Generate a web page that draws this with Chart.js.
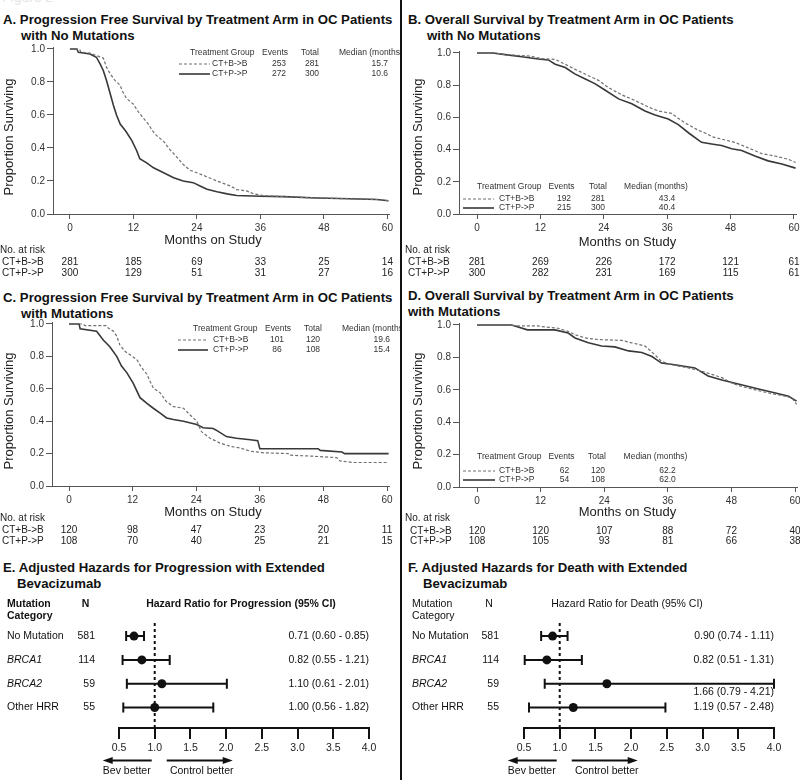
<!DOCTYPE html>
<html>
<head>
<meta charset="utf-8">
<script src="https://cdn.jsdelivr.net/npm/chart.js@4.4.1/dist/chart.umd.min.js"></script>
<style>
  body { margin: 0; background: #fff; width: 800px; height: 780px; position: relative; overflow: hidden;
         font-family: 'Liberation Sans', Arial, Helvetica, sans-serif; color: #111; }
  canvas { position: absolute; }
  .ttl { position: absolute; font-weight: bold; font-size: 13.2px; line-height: 15.5px; white-space: nowrap; }
  .ttl span { display: block; }
  #divider { position: absolute; left: 400px; top: 0; width: 2px; height: 780px; background: #111; z-index: 5; }
  #fig { position: absolute; left: 2px; top: -11px; font-size: 14px; color: #e6e6e6; }
</style>
</head>
<body>
<div id="fig">Figure 2</div>

<div class="ttl" style="left:3px;top:12px"><span>A. Progression Free Survival by Treatment Arm in OC Patients</span><span style="padding-left:18px">with No Mutations</span></div>
<div class="ttl" style="left:408px;top:12px"><span>B. Overall Survival by Treatment Arm in OC Patients</span><span style="padding-left:19px">with No Mutations</span></div>
<div class="ttl" style="left:3px;top:290px"><span>C. Progression Free Survival by Treatment Arm in OC Patients</span><span style="padding-left:18px">with Mutations</span></div>
<div class="ttl" style="left:408px;top:288px"><span>D. Overall Survival by Treatment Arm in OC Patients</span><span>with Mutations</span></div>
<div class="ttl" style="left:3px;top:560px"><span>E. Adjusted Hazards for Progression with Extended</span><span style="padding-left:14px">Bevacizumab</span></div>
<div class="ttl" style="left:408px;top:560px"><span>F. Adjusted Hazards for Death with Extended</span><span style="padding-left:15px">Bevacizumab</span></div>

<canvas id="kmA" width="400" height="290" style="left:0;top:0"></canvas>
<canvas id="kmB" width="400" height="290" style="left:400px;top:0"></canvas>
<canvas id="kmC" width="400" height="270" style="left:0;top:280px"></canvas>
<canvas id="kmD" width="400" height="270" style="left:400px;top:280px"></canvas>
<canvas id="forestE" width="400" height="230" style="left:0;top:550px"></canvas>
<canvas id="forestF" width="400" height="230" style="left:400px;top:550px"></canvas>
<div id="divider"></div>

<script>
/* ---- data ---- */
const MONTH_TICKS = [0, 12, 24, 36, 48, 60];
const SURV_TICKS = [0, 0.2, 0.4, 0.6, 0.8, 1.0];
const HR_TICKS = [0.5, 1.0, 1.5, 2.0, 2.5, 3.0, 3.5, 4.0];
const ARMS = ["CT+B->B", "CT+P->P"];

// A. PFS, no mutations  [month, proportion]
const pfsNoMutBev = [[0,1],[1.8,1],[2.1,0.98],[3.8,0.975],[5,0.96],[6.3,0.945],[6.9,0.89],[7.6,0.85],[8.5,0.81],[9.5,0.78],[9.9,0.745],[10.7,0.70],[12,0.665],[12.9,0.62],[13.9,0.58],[14.8,0.545],[15.7,0.50],[16.4,0.475],[17.7,0.44],[18.9,0.39],[20.2,0.345],[21.4,0.30],[22.7,0.265],[24,0.25],[25.9,0.225],[27.8,0.20],[30.3,0.17],[31.5,0.148],[33.4,0.14],[34.7,0.122],[36.6,0.112],[40.4,0.105],[46.7,0.097],[53,0.092],[58,0.088],[60.2,0.08]];
const pfsNoMutCtl = [[0,1],[1.3,1],[1.6,0.98],[3.8,0.97],[5,0.95],[5.7,0.91],[6.3,0.87],[6.9,0.81],[7.6,0.73],[8.2,0.66],[8.8,0.60],[9.5,0.545],[10.6,0.50],[11.7,0.445],[12.6,0.385],[13.2,0.335],[14.5,0.31],[15.8,0.28],[17.7,0.25],[19.6,0.22],[21.4,0.20],[23.3,0.19],[24.6,0.17],[25.9,0.15],[27.8,0.135],[29.7,0.122],[31.5,0.112],[36,0.108],[40.4,0.105],[46.7,0.097],[53,0.092],[58,0.088],[60.2,0.08]];
const pfsNoMutRisk = [[281, 185, 69, 33, 25, 14], [300, 129, 51, 31, 27, 16]];
const pfsNoMutEvents = [253, 272];
const pfsNoMutTotal = [281, 300];
const pfsNoMutMedian = [15.7, 10.6];

// B. OS, no mutations
const osNoMutBev = [[0,1],[3.4,1],[5.3,0.99],[10.3,0.98],[12.2,0.965],[14.8,0.96],[16.7,0.93],[18.5,0.90],[21,0.86],[23,0.83],[24.9,0.785],[27.4,0.74],[29.9,0.705],[32.4,0.665],[34.3,0.64],[36.8,0.625],[39.4,0.565],[41.9,0.52],[43.4,0.50],[44.5,0.48],[46.3,0.465],[48.8,0.445],[51.4,0.41],[53.9,0.375],[56.4,0.36],[58.9,0.34],[60.3,0.32]];
const osNoMutCtl = [[0,1],[3,1],[5.3,0.99],[8.5,0.977],[11.6,0.963],[13.5,0.957],[14.8,0.93],[16.7,0.91],[18.5,0.87],[20.4,0.84],[22.3,0.81],[24.2,0.77],[26.8,0.715],[29.3,0.685],[31.8,0.64],[33.7,0.615],[36.2,0.59],[38.1,0.555],[40.2,0.50],[42.5,0.445],[44.4,0.435],[46.3,0.425],[48.2,0.405],[50.1,0.395],[52.6,0.36],[55.1,0.33],[57.7,0.31],[60.3,0.285]];
const osNoMutRisk = [[281, 269, 226, 172, 121, 61], [300, 282, 231, 169, 115, 61]];
const osNoMutEvents = [192, 215];
const osNoMutTotal = [281, 300];
const osNoMutMedian = [43.4, 40.4];

// C. PFS, mutations
const pfsMutBev = [[0,1],[2.7,1],[3,0.99],[7,0.99],[7.4,0.975],[8.4,0.955],[9,0.925],[9.6,0.87],[10.6,0.83],[11.5,0.81],[12.8,0.78],[13.7,0.73],[14.7,0.69],[15.3,0.645],[15.9,0.605],[17.2,0.575],[18.4,0.52],[19.7,0.49],[21.6,0.48],[22.8,0.44],[24.1,0.40],[25,0.335],[26.6,0.295],[28.5,0.265],[30.4,0.245],[32.3,0.235],[34.2,0.215],[36.7,0.205],[41.5,0.20],[41.8,0.19],[45.5,0.185],[50.5,0.175],[51.1,0.155],[53.6,0.145],[60.3,0.145]];
const pfsMutCtl = [[0,1],[1.9,1],[2.1,0.97],[5.2,0.955],[6.5,0.90],[7.7,0.86],[9,0.80],[9.9,0.74],[10.9,0.70],[12.1,0.635],[13.4,0.545],[14.7,0.51],[15.9,0.48],[17.2,0.45],[18.4,0.42],[19.7,0.41],[21.6,0.40],[24.1,0.38],[25.3,0.36],[27.2,0.355],[28,0.34],[29.7,0.305],[31.6,0.295],[34.2,0.285],[35.6,0.28],[36,0.23],[47,0.23],[47.4,0.22],[51.5,0.21],[52,0.20],[60.3,0.20]];
const pfsMutRisk = [[120, 98, 47, 23, 20, 11], [108, 70, 40, 25, 21, 15]];
const pfsMutEvents = [101, 86];
const pfsMutTotal = [120, 108];
const pfsMutMedian = [19.6, 15.4];

// D. OS, mutations
const osMutBev = [[0,1],[6.5,1],[7,0.995],[11.5,0.995],[12.2,0.99],[15.3,0.98],[17.2,0.96],[18.5,0.94],[20.4,0.92],[22.9,0.91],[27.3,0.905],[29.2,0.89],[31.7,0.87],[33.6,0.815],[34.8,0.775],[36.7,0.755],[39.9,0.735],[42.4,0.715],[44.3,0.695],[46.2,0.675],[48.1,0.64],[50,0.62],[52.5,0.60],[55,0.58],[57.5,0.565],[59.4,0.55],[60.3,0.51]];
const osMutCtl = [[0,1],[6.5,1],[7,0.995],[9.5,0.97],[14.7,0.97],[17.2,0.95],[18.5,0.92],[21,0.89],[23.5,0.87],[26,0.865],[28.6,0.84],[31.1,0.83],[33,0.805],[34.8,0.765],[37.3,0.755],[41.1,0.735],[43.6,0.685],[46.2,0.66],[48.7,0.64],[51.2,0.62],[53.7,0.60],[56.3,0.58],[58.8,0.56],[60.3,0.53]];
const osMutRisk = [[120, 120, 107, 88, 72, 40], [108, 105, 93, 81, 66, 38]];
const osMutEvents = [62, 54];
const osMutTotal = [120, 108];
const osMutMedian = [62.2, 62.0];

// E/F. adjusted hazard ratios
const MUT_CATS = ["No Mutation", "BRCA1", "BRCA2", "Other HRR"];
const MUT_N = [581, 114, 59, 55];
const pfsHR = [0.71, 0.82, 1.10, 1.00];
const pfsLo = [0.60, 0.55, 0.61, 0.56];
const pfsHi = [0.85, 1.21, 2.01, 1.82];
const osHR = [0.90, 0.82, 1.66, 1.19];
const osLo = [0.74, 0.51, 0.79, 0.57];
const osHi = [1.11, 1.31, 4.21, 2.48];

/* ---- drawing ---- */
const FONT = "'Liberation Sans', Arial, Helvetica, sans-serif";
Chart.defaults.font.family = FONT;
Chart.defaults.color = "#222";

const toXY = (pts) => pts.map(([m, s]) => ({ x: m, y: s }));
const noPad = (s) => { s.paddingLeft = 0; s.paddingRight = 0; s.paddingTop = 0; s.paddingBottom = 0; };

function kmChart(id, bev, ctl, risk, events, total, median, L) {
  const kmText = {
    id: "kmText",
    afterDraw(chart) {
      const { ctx, scales: { x } } = chart;
      ctx.save();
      ctx.fillStyle = "#222";
      ctx.textBaseline = "middle";

      ctx.font = `13px ${FONT}`;
      ctx.textAlign = "center";
      ctx.fillText("Months on Study", L.xTitle[0], L.xTitle[1]);
      ctx.save();
      ctx.translate(L.yTitle[0], L.yTitle[1]);
      ctx.rotate(-Math.PI / 2);
      ctx.fillText("Proportion Surviving", 0, 0);
      ctx.restore();

      // numbers at risk under the ticks
      ctx.font = `10px ${FONT}`;
      ctx.textAlign = "left";
      ctx.fillText("No. at risk", L.risk.x0, L.risk.head);
      ARMS.forEach((arm, r) => {
        ctx.textAlign = "left";
        ctx.fillText(arm, L.risk.x1, L.risk.rows[r]);
        ctx.textAlign = "center";
        risk[r].forEach((n, i) => ctx.fillText(String(n), x.getPixelForValue(MONTH_TICKS[i]), L.risk.rows[r]));
      });

      // summary table
      const g = L.leg;
      ctx.fillStyle = "#333";
      ctx.font = `8.5px ${FONT}`;
      ctx.textAlign = "left";
      ctx.fillText("Treatment Group", g.group, g.head);
      ctx.textAlign = "center";
      ctx.fillText("Events", g.events, g.head);
      ctx.fillText("Total", g.total, g.head);
      ctx.textAlign = g.medHeadAlign;
      ctx.fillText("Median (months)", g.medHead, g.head);
      ARMS.forEach((arm, r) => {
        const y = g.rows[r];
        const ds = chart.data.datasets[r];
        ctx.save();
        ctx.strokeStyle = ds.borderColor;
        ctx.lineWidth = ds.borderWidth;
        ctx.setLineDash(ds.borderDash || []);
        ctx.beginPath();
        ctx.moveTo(g.line[0], y);
        ctx.lineTo(g.line[1], y);
        ctx.stroke();
        ctx.restore();
        ctx.textAlign = "left";
        ctx.fillText(arm, g.label, y);
        ctx.textAlign = "center";
        ctx.fillText(String(events[r]), g.ev, y);
        ctx.fillText(String(total[r]), g.tot, y);
        ctx.textAlign = g.medAlign;
        ctx.fillText(median[r].toFixed(1), g.med, y);
      });
      ctx.restore();
    },
  };

  return new Chart(document.getElementById(id), {
    type: "line",
    data: {
      datasets: [
        { label: ARMS[0], data: toXY(bev), borderColor: "#707070", borderWidth: 1.2, borderDash: [3, 2], pointRadius: 0, tension: 0 },
        { label: ARMS[1], data: toXY(ctl), borderColor: "#383838", borderWidth: 1.6, pointRadius: 0, tension: 0 },
      ],
    },
    options: {
      responsive: false,
      animation: false,
      events: [],
      layout: { padding: L.pad },
      plugins: { legend: { display: false }, tooltip: { enabled: false } },
      scales: {
        x: {
          type: "linear",
          min: L.xMin,
          max: L.xMax,
          afterBuildTicks: (a) => { a.ticks = MONTH_TICKS.map((v) => ({ value: v })); },
          afterFit: (s) => { s.height = 30; noPad(s); },
          ticks: { font: { size: 10 }, color: "#333", padding: 3, maxRotation: 0, autoSkip: false },
          grid: { drawOnChartArea: false, tickLength: 5, color: "#555" },
          border: { color: "#555" },
        },
        y: {
          min: 0,
          max: L.yMax,
          afterBuildTicks: (a) => { a.ticks = SURV_TICKS.map((v) => ({ value: v })); },
          afterFit: (s) => { s.width = L.yWidth; noPad(s); },
          ticks: { font: { size: 10 }, color: "#333", padding: 2, callback: (v) => v.toFixed(1) },
          grid: { drawOnChartArea: false, tickLength: 6, color: "#555" },
          border: { color: "#555" },
        },
      },
    },
    plugins: [kmText],
  });
}

function forestChart(id, hr, lo, hi, header, L) {
  const fmt = (v) => v.toFixed(2);
  const forest = {
    id: "forest",
    beforeDatasetsDraw(chart) {
      const { ctx, chartArea: a, scales: { x, y } } = chart;
      ctx.save();
      ctx.strokeStyle = "#111";
      // reference line at HR = 1
      ctx.lineWidth = 2;
      ctx.setLineDash([3, 3]);
      ctx.beginPath();
      ctx.moveTo(x.getPixelForValue(1), a.top);
      ctx.lineTo(x.getPixelForValue(1), a.bottom);
      ctx.stroke();
      ctx.setLineDash([]);
      // confidence intervals
      hr.forEach((_, i) => {
        const py = y.getPixelForValue(i);
        const x1 = x.getPixelForValue(lo[i]);
        const x2 = x.getPixelForValue(Math.min(hi[i], x.max));
        ctx.beginPath();
        ctx.moveTo(x1, py); ctx.lineTo(x2, py);
        ctx.moveTo(x1, py - 5); ctx.lineTo(x1, py + 5);
        ctx.moveTo(x2, py - 5); ctx.lineTo(x2, py + 5);
        ctx.stroke();
      });
      ctx.restore();
    },
    afterDraw(chart) {
      const { ctx, scales: { x, y } } = chart;
      ctx.save();
      ctx.fillStyle = "#111";
      ctx.textBaseline = "middle";
      const w = L.bold ? "bold " : "";
      ctx.font = `${w}10.5px ${FONT}`;
      ctx.textAlign = "left";
      ctx.fillText("Mutation", L.catX, L.head[0]);
      ctx.fillText("Category", L.catX, L.head[1]);
      ctx.textAlign = "center";
      ctx.fillText("N", L.nHead, L.head[0]);
      ctx.fillText(header, L.hrHead, L.head[0]);

      MUT_CATS.forEach((cat, i) => {
        const py = y.getPixelForValue(i);
        ctx.font = `${cat.startsWith("BRCA") ? "italic " : ""}10.5px ${FONT}`;
        ctx.textAlign = "left";
        ctx.fillText(cat, L.catX, py);
        ctx.font = `10.5px ${FONT}`;
        ctx.textAlign = "right";
        ctx.fillText(String(MUT_N[i]), L.nX, py);
        const below = hi[i] > x.max ? 8 : 0;
        ctx.fillText(`${fmt(hr[i])} (${fmt(lo[i])} - ${fmt(hi[i])})`, L.valX, py + below);
      });

      // direction arrows
      const one = x.getPixelForValue(1);
      const arrow = (from, to) => {
        const d = Math.sign(to - from);
        ctx.beginPath();
        ctx.moveTo(from, L.arrowY); ctx.lineTo(to - d * 6, L.arrowY);
        ctx.stroke();
        ctx.beginPath();
        ctx.moveTo(to, L.arrowY);
        ctx.lineTo(to - d * 10, L.arrowY - 3.5);
        ctx.lineTo(to - d * 10, L.arrowY + 3.5);
        ctx.closePath();
        ctx.fill();
      };
      ctx.strokeStyle = "#111";
      ctx.lineWidth = 2;
      arrow(one - 3, one - 52);
      arrow(one + 12, one + 78);
      ctx.textAlign = "center";
      ctx.fillText("Bev better", one - 28, L.textY);
      ctx.fillText("Control better", one + 47, L.textY);
      ctx.restore();
    },
  };

  return new Chart(document.getElementById(id), {
    type: "scatter",
    data: {
      datasets: [{
        data: hr.map((v, i) => ({ x: v, y: i })),
        pointRadius: 4.5,
        pointBackgroundColor: "#111",
        pointBorderColor: "#111",
        pointBorderWidth: 0,
      }],
    },
    options: {
      responsive: false,
      animation: false,
      events: [],
      layout: { padding: L.pad },
      plugins: { legend: { display: false }, tooltip: { enabled: false } },
      scales: {
        x: {
          type: "linear",
          min: 0.5,
          max: 4.0,
          afterBuildTicks: (a) => { a.ticks = HR_TICKS.map((v) => ({ value: v })); },
          afterFit: (s) => { s.height = 30; noPad(s); },
          ticks: { font: { size: 10.5 }, color: "#222", padding: 3, maxRotation: 0, autoSkip: false, callback: (v) => v.toFixed(1) },
          grid: { drawOnChartArea: false, tickLength: 11, color: "#111", lineWidth: 2 },
          border: { color: "#111", width: 2 },
        },
        y: { type: "linear", reverse: true, min: -0.55, max: 3.86, display: false },
      },
    },
    plugins: [forest],
  });
}

kmChart("kmA", pfsNoMutBev, pfsNoMutCtl, pfsNoMutRisk, pfsNoMutEvents, pfsNoMutTotal, pfsNoMutMedian, {
  pad: { left: 0, top: 47, right: 11, bottom: 46 }, yWidth: 53, xMin: -3.2, xMax: 60.3, yMax: 1.012,
  yTitle: [9, 137], xTitle: [213, 240],
  risk: { x0: 0, x1: 2, head: 250, rows: [262, 273.5] },
  leg: { head: 53, rows: [64, 74], group: 190, events: 275, total: 310, medHead: 339, medHeadAlign: "left",
         line: [179, 210], label: 212, ev: 279, tot: 312, med: 388, medAlign: "right" },
});
kmChart("kmB", osNoMutBev, osNoMutCtl, osNoMutRisk, osNoMutEvents, osNoMutTotal, osNoMutMedian, {
  pad: { left: 0, top: 51, right: 4, bottom: 46 }, yWidth: 59, xMin: -3.41, xMax: 60.38, yMax: 1.0124,
  yTitle: [18.5, 137], xTitle: [227.5, 242],
  risk: { x0: 5, x1: 8, head: 250, rows: [262, 273.5] },
  leg: { head: 187, rows: [199, 208], group: 77, events: 161.5, total: 198, medHead: 256, medHeadAlign: "center",
         line: [63, 94], label: 99, ev: 164, tot: 198, med: 267, medAlign: "center" },
});
kmChart("kmC", pfsMutBev, pfsMutCtl, pfsMutRisk, pfsMutEvents, pfsMutTotal, pfsMutMedian, {
  pad: { left: 0, top: 42, right: 11, bottom: 34 }, yWidth: 52, xMin: -3.21, xMax: 60.37, yMax: 1.0123,
  yTitle: [9, 131], xTitle: [213, 232],
  risk: { x0: 0, x1: 2, head: 238.5, rows: [250, 261] },
  leg: { head: 49, rows: [60, 70], group: 193, events: 278, total: 313, medHead: 342, medHeadAlign: "left",
         line: [178, 208], label: 213, ev: 277, tot: 313, med: 390, medAlign: "right" },
});
kmChart("kmD", osMutBev, osMutCtl, osMutRisk, osMutEvents, osMutTotal, osMutMedian, {
  pad: { left: 0, top: 43, right: 3, bottom: 33 }, yWidth: 59, xMin: -3.4, xMax: 60.37, yMax: 1.0123,
  yTitle: [18.5, 131], xTitle: [227.5, 232.5],
  risk: { x0: 5, x1: 10, head: 238.5, rows: [251, 261] },
  leg: { head: 177, rows: [191, 200], group: 77, events: 161.5, total: 197, medHead: 255.5, medHeadAlign: "center",
         line: [63, 95], label: 99, ev: 164.5, tot: 198, med: 267.5, medAlign: "center" },
});

forestChart("forestE", pfsHR, pfsLo, pfsHi, "Hazard Ratio for Progression (95% CI)", {
  pad: { left: 119, top: 73, right: 31, bottom: 22 }, bold: true,
  head: [54, 66.5], catX: 7, nHead: 85.5, hrHead: 241, nX: 95, valX: 369, arrowY: 210.5, textY: 221.5,
});
forestChart("forestF", osHR, osLo, osHi, "Hazard Ratio for Death (95% CI)", {
  pad: { left: 124, top: 73, right: 26, bottom: 22 }, bold: false,
  head: [54, 66.5], catX: 12, nHead: 89, hrHead: 227, nX: 99, valX: 374, arrowY: 210.5, textY: 221.5,
});
</script>
</body>
</html>
